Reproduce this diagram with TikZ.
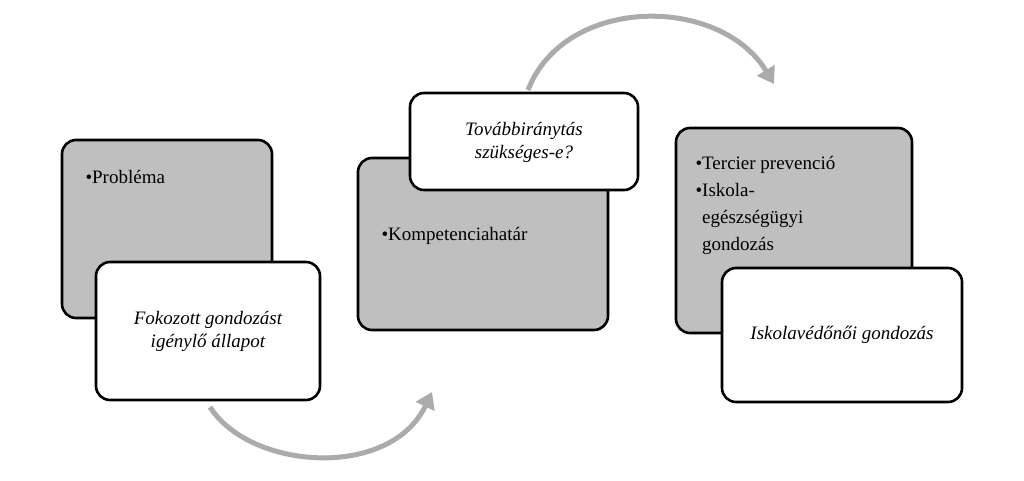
\documentclass[tikz,border=0pt]{standalone}
\usepackage{fontspec}
\setmainfont{Liberation Serif}[Ligatures=TeX]
\newfontfamily\tms{Liberation Serif}
\usetikzlibrary{arrows.meta}
\begin{document}
\begin{tikzpicture}[x=1pt,y=-1pt,
 gbox/.style={draw=black,line width=2.6pt,rounded corners=14pt,fill=black!25},
 wbox/.style={draw=black,line width=2.6pt,rounded corners=14pt,fill=white},
 arc/.style={draw=black!33,line width=5pt,-{Triangle[length=16pt,width=20pt]}},
 txt/.style={font=\tms\fontsize{19}{23}\selectfont\itshape,align=center},
 ltxt/.style={font=\tms\fontsize{19}{23}\selectfont,align=left,anchor=north west}]
\useasboundingbox (0,0) rectangle (1024,481);
\draw[gbox] (62,140) rectangle (272,318);
\node[ltxt] (p1) at (82,167) {•Probléma};
\draw[wbox] (96,262) rectangle (320,400);
\node[txt] (w1) at (208,331) {Fokozott gondozást\\igénylő állapot};
\draw[gbox] (358,158) rectangle (608,330);
\node[ltxt] (p2) at (378,224) {•Kompetenciahatár};
\draw[wbox] (410,93) rectangle (638,190);
\node[txt] (w2) at (524,142) {Továbbiránytás\\szükséges-e?};
\draw[gbox] (676,128) rectangle (912,333);
\node[ltxt,font=\tms\fontsize{19}{27}\selectfont] (p3) at (692,153) {•Tercier prevenció\\•Iskola-\\\phantom{•}egészségügyi\\\phantom{•}gondozás};
\draw[wbox] (722,268) rectangle (962,402);
\node[txt] (w3) at (842,335) {Iskolavédőnői gondozás};
\coordinate (a1) at (210,407);
\coordinate (a2) at (432,392);
\draw[arc] (a1) .. controls (250,470) and (390,480) .. (a2);
\coordinate (b1) at (528,90);
\coordinate (b2) at (774,84);
\draw[arc] (b1) .. controls (565,-5) and (720,-5) .. (b2);
\end{tikzpicture}
\end{document}
